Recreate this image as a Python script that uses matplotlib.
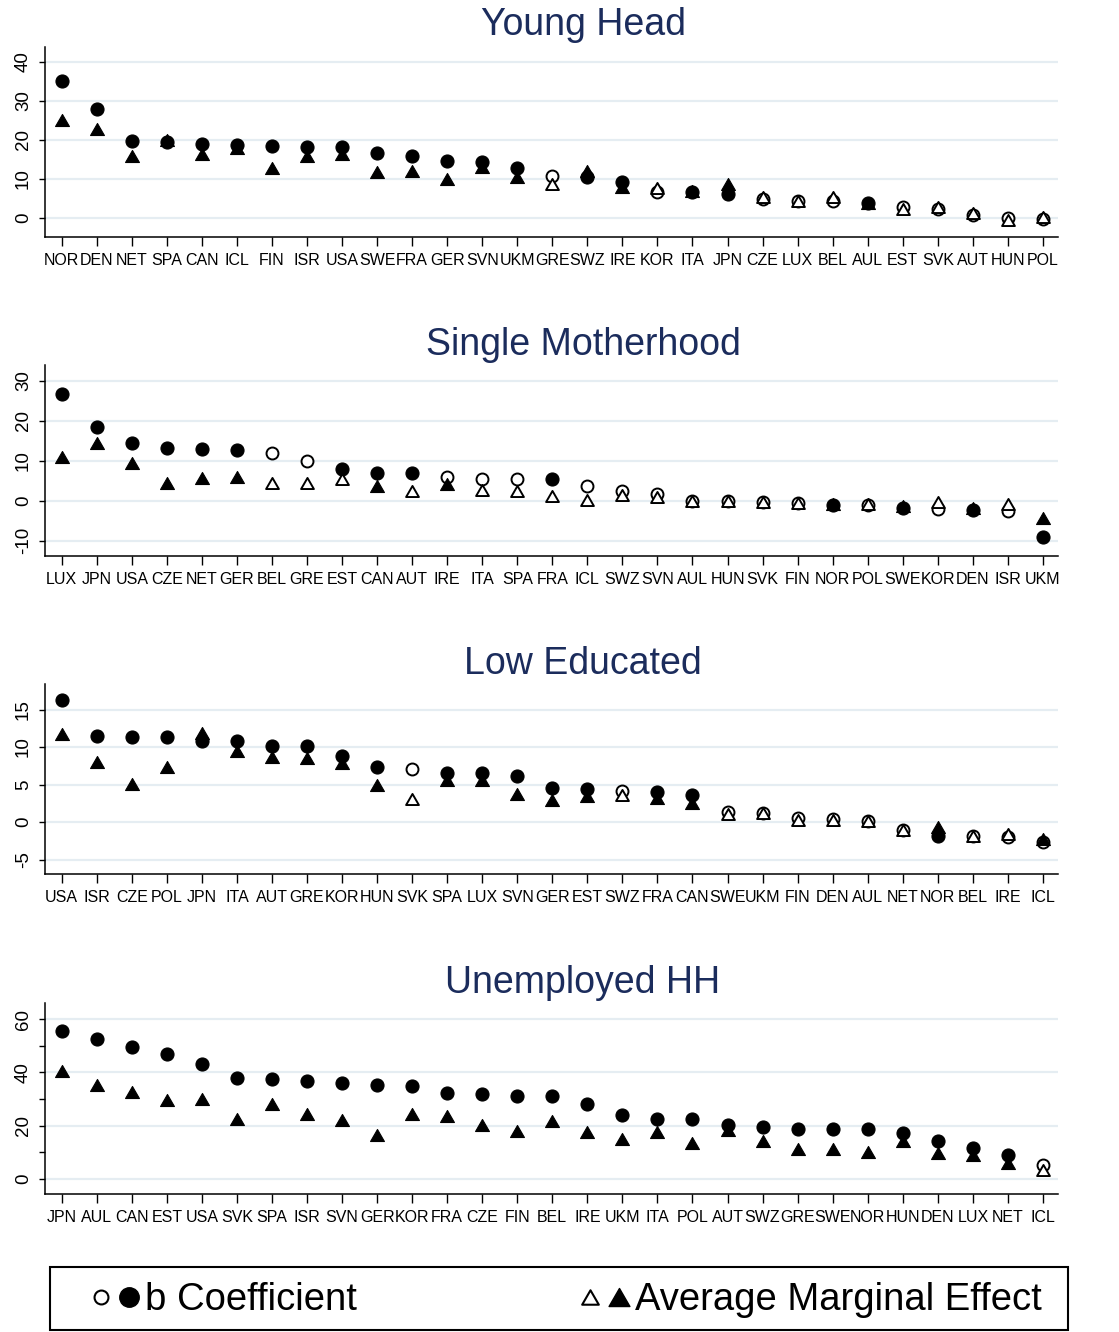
import numpy as np
import matplotlib
matplotlib.use('Agg')
import matplotlib.pyplot as plt
from matplotlib.lines import Line2D
from matplotlib.legend_handler import HandlerTuple
from matplotlib.path import Path
from matplotlib.patches import Rectangle

plt.rcParams['font.family'] = ['Liberation Sans', 'DejaVu Sans']

# ---------------- Data ----------------
yh_countries = ["NOR", "DEN", "NET", "SPA", "CAN", "ICL", "FIN", "ISR", "USA", "SWE", "FRA", "GER", "SVN", "UKM",
                "GRE", "SWZ", "IRE", "KOR", "ITA", "JPN", "CZE", "LUX", "BEL", "AUL", "EST", "SVK", "AUT", "HUN", "POL"]
yh_coef = [34.9, 27.8, 19.7, 19.5, 18.8, 18.6, 18.5, 18.0, 18.0, 16.5, 15.8, 14.6, 14.2, 12.7,
           10.7, 10.5, 9.2, 6.7, 6.6, 6.1, 4.9, 4.4, 4.3, 3.8, 2.8, 2.2, 0.8, 0.0, -0.3]
yh_ame = [25.0, 22.7, 15.9, 20.0, 16.3, 17.8, 12.7, 15.9, 16.3, 11.6, 12.1, 9.8, 12.9, 10.5,
          8.6, 12.1, 7.9, 7.5, 6.9, 8.6, 5.4, 4.3, 5.2, 3.8, 2.2, 2.8, 1.1, -0.6, 0.3]
yh_coef_sig = [1, 1, 1, 1, 1, 1, 1, 1, 1, 1, 1, 1, 1, 1, 0, 1, 1, 0, 1, 1, 0, 0, 0, 1, 0, 0, 0, 0, 0]
yh_ame_sig = [1, 1, 1, 1, 1, 1, 1, 1, 1, 1, 1, 1, 1, 1, 0, 1, 1, 0, 1, 1, 0, 0, 0, 1, 0, 0, 0, 0, 0]

sm_countries = ["LUX", "JPN", "USA", "CZE", "NET", "GER", "BEL", "GRE", "EST", "CAN", "AUT", "IRE", "ITA", "SPA",
                "FRA", "ICL", "SWZ", "SVN", "AUL", "HUN", "SVK", "FIN", "NOR", "POL", "SWE", "KOR", "DEN", "ISR", "UKM"]
sm_coef = [26.7, 18.3, 14.3, 13.1, 12.9, 12.7, 12.0, 9.9, 7.9, 6.9, 6.8, 5.8, 5.4, 5.4,
           5.3, 3.7, 2.4, 1.6, -0.1, -0.1, -0.4, -0.5, -1.1, -1.2, -1.9, -2.1, -2.4, -2.6, -9.0]
sm_ame = [10.8, 14.3, 9.3, 4.5, 5.6, 6.0, 4.5, 4.5, 5.3, 3.7, 2.3, 4.1, 2.7, 2.5,
          1.2, 0.2, 1.4, 0.8, -0.1, -0.1, -0.4, -0.5, -0.8, -0.9, -1.4, -0.3, -1.8, -0.9, -4.4]
sm_coef_sig = [1, 1, 1, 1, 1, 1, 0, 0, 1, 1, 1, 0, 0, 0, 1, 0, 0, 0, 0, 0, 0, 0, 1, 0, 1, 0, 1, 0, 1]
sm_ame_sig = [1, 1, 1, 1, 1, 1, 0, 0, 0, 1, 0, 1, 0, 0, 0, 0, 0, 0, 0, 0, 0, 0, 1, 0, 1, 0, 1, 0, 1]

le_countries = ["USA", "ISR", "CZE", "POL", "JPN", "ITA", "AUT", "GRE", "KOR", "HUN", "SVK", "SPA", "LUX", "SVN",
                "GER", "EST", "SWZ", "FRA", "CAN", "SWE", "UKM", "FIN", "DEN", "AUL", "NET", "NOR", "BEL", "IRE", "ICL"]
le_coef = [16.3, 11.5, 11.4, 11.3, 10.8, 10.8, 10.2, 10.1, 8.8, 7.4, 7.1, 6.6, 6.6, 6.2,
           4.5, 4.4, 4.2, 4.0, 3.6, 1.3, 1.2, 0.5, 0.4, 0.2, -1.0, -1.8, -1.9, -2.0, -2.7]
le_ame = [11.7, 8.0, 5.1, 7.3, 11.9, 9.5, 8.7, 8.5, 7.9, 4.9, 3.1, 5.6, 5.6, 3.8,
          2.9, 3.5, 3.6, 3.2, 2.5, 1.1, 1.2, 0.3, 0.3, 0.1, -1.0, -0.7, -1.9, -1.6, -2.2]
le_coef_sig = [1, 1, 1, 1, 1, 1, 1, 1, 1, 1, 0, 1, 1, 1, 1, 1, 0, 1, 1, 0, 0, 0, 0, 0, 0, 1, 0, 0, 0]
le_ame_sig = [1, 1, 1, 1, 1, 1, 1, 1, 1, 1, 0, 1, 1, 1, 1, 1, 0, 1, 1, 0, 0, 0, 0, 0, 0, 1, 0, 0, 1]

uh_countries = ["JPN", "AUL", "CAN", "EST", "USA", "SVK", "SPA", "ISR", "SVN", "GER", "KOR", "FRA", "CZE", "FIN",
                "BEL", "IRE", "UKM", "ITA", "POL", "AUT", "SWZ", "GRE", "SWE", "NOR", "HUN", "DEN", "LUX", "NET", "ICL"]
uh_coef = [55.6, 52.5, 49.6, 46.9, 43.0, 38.0, 37.4, 36.7, 36.1, 35.2, 34.9, 32.1, 31.9, 31.1,
           31.1, 28.0, 24.0, 22.7, 22.7, 20.2, 19.6, 18.7, 18.6, 18.6, 17.1, 14.4, 11.5, 9.0, 5.2]
uh_ame = [40.6, 35.2, 32.7, 29.6, 30.1, 22.7, 28.0, 24.4, 22.1, 16.5, 24.4, 23.6, 20.2, 18.0,
          21.9, 17.8, 14.9, 17.8, 13.6, 18.4, 14.4, 11.1, 11.1, 10.3, 14.4, 9.6, 9.0, 5.9, 3.4]
uh_coef_sig = [1] * 28 + [0]
uh_ame_sig = [1] * 28 + [0]

panel_titles = ["Young Head", "Single Motherhood", "Low Educated", "Unemployed HH"]
yh_yticks = [0, 10, 20, 30, 40]
sm_yticks = [-10, 0, 10, 20, 30]
le_yticks = [-5, 0, 5, 10, 15]
uh_yticks = [0, 20, 40, 60]
uh_yminor = [10, 30, 50]
legend_labels = ['b Coefficient', 'Average Marginal Effect']

# ---------------- Layout ----------------
W, H = 1119, 1332
fig = plt.figure(figsize=(W / 100, H / 100), dpi=100)

panels = [
    (yh_countries, yh_coef, yh_ame, yh_coef_sig, yh_ame_sig, yh_yticks, None, (-5.0, 43.8), 46.7, 237.3, 25),
    (sm_countries, sm_coef, sm_ame, sm_coef_sig, sm_ame_sig, sm_yticks, None, (-13.75, 33.9), 365, 555.7, 345),
    (le_countries, le_coef, le_ame, le_coef_sig, le_ame_sig, le_yticks, None, (-6.96, 18.4), 684, 874.3, 664),
    (uh_countries, uh_coef, uh_ame, uh_coef_sig, uh_ame_sig, uh_yticks, uh_yminor, (-5.6, 66.0), 1003, 1194, 983),
]

title_color = '#1b2c5c'
grid_color = '#e5edf2'
tri = Path([(-1, -0.866), (1, -0.866), (0, 0.866), (-1, -0.866)],
           [Path.MOVETO, Path.LINETO, Path.LINETO, Path.CLOSEPOLY])

left_px, right_px = 45, 1058
for i, (cty, coef, ame, csig, asig, yt, ymin_t, ylim, top, bot, ty) in enumerate(panels):
    ax = fig.add_axes([left_px / W, 1 - bot / H, (right_px - left_px) / W, (bot - top) / H])
    x = np.arange(len(cty))
    coef = np.array(coef); ame = np.array(ame)
    csig = np.array(csig, bool); asig = np.array(asig, bool)

    ax.plot(x[csig], coef[csig], ls='none', marker='o', ms=9.4, mfc='black', mec='black', mew=0.8, zorder=3)
    ax.plot(x[~csig], coef[~csig], ls='none', marker='o', ms=8.6, mfc='white', mec='black', mew=1.4, zorder=3)
    ax.plot(x[asig], ame[asig], ls='none', marker=tri, ms=10, mfc='black', mec='black', mew=0.8, zorder=4)
    ax.plot(x[~asig], ame[~asig], ls='none', marker=tri, ms=9.2, mfc='white', mec='black', mew=1.4, zorder=4)

    ax.set_xlim(-0.476, len(cty) - 1 + 0.43)
    ax.set_ylim(*ylim)
    ax.set_xticks(x)
    ax.set_xticklabels(cty, fontsize=11.5)
    ax.set_yticks(yt)
    ax.set_yticklabels([str(v) for v in yt], fontsize=13.5, rotation=90)
    for lab in ax.get_yticklabels():
        lab.set_va('center')
    if ymin_t is not None:
        ax.set_yticks(ymin_t, minor=True)
        ax.tick_params(axis='y', which='minor', length=4.3, width=1.0)
    ax.tick_params(axis='x', length=6.5, width=1.0, pad=5)
    ax.tick_params(axis='y', length=4.3, width=1.0, pad=5)
    for v in yt:
        ax.axhline(v, color=grid_color, lw=1.6, zorder=1)
    for s in ['top', 'right']:
        ax.spines[s].set_visible(False)
    for s in ['left', 'bottom']:
        ax.spines[s].set_linewidth(1.1)
    fig.text(583 / W, 1 - ty / H, panel_titles[i], fontsize=27, color=title_color,
             ha='center', va='center')

# ---------------- Legend ----------------
fig.patches.append(Rectangle((50 / W, 1 - 1330 / H), 1018 / W, 63 / H, transform=fig.transFigure,
                             fill=False, edgecolor='black', linewidth=1.5))
h_circ = (Line2D([], [], ls='none', marker='o', ms=10, mfc='white', mec='black', mew=1.5),
          Line2D([], [], ls='none', marker='o', ms=14, mfc='black', mec='black'))
h_tri = (Line2D([], [], ls='none', marker=tri, ms=12, mfc='white', mec='black', mew=1.5),
         Line2D([], [], ls='none', marker=tri, ms=15, mfc='black', mec='black'))
leg = fig.legend(handles=[h_circ, h_tri], labels=legend_labels,
                 handler_map={tuple: HandlerTuple(ndivide=None, pad=0.2)},
                 loc='center', bbox_to_anchor=(90 / W, 0 / H, 952 / W, 63 / H), mode='expand',
                 ncol=2, fontsize=27.5, frameon=False,
                 handlelength=1.3, handletextpad=0.15, borderaxespad=0, borderpad=0)

fig.savefig('out.png', dpi=100)
